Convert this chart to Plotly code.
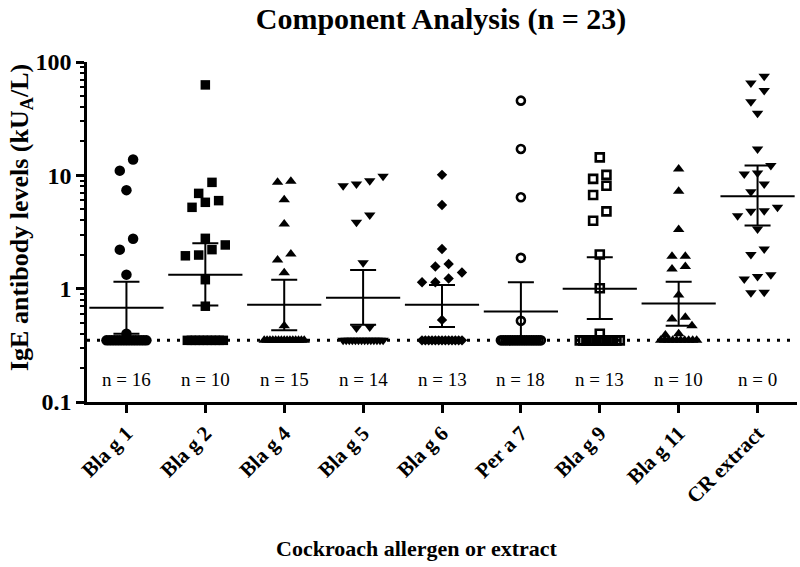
import numpy as np
import plotly.graph_objects as go

# ---------------- data ----------------
categories = ["Bla g 1", "Bla g 2", "Bla g 4", "Bla g 5", "Bla g 6",
              "Per a 7", "Bla g 9", "Bla g 11", "CR extract"]
LOD = 0.35  # detection limit (values below plotted at LOD)

bla_g_1 = [13.8, 11.0, 7.4, 2.76, 2.21, 1.33, 0.40] + [LOD] * 16
bla_g_2 = [62.8, 8.67, 6.93, 5.78, 5.22, 5.98, 2.78, 2.43, 2.21, 1.98, 1.95, 1.20, 0.70] + [LOD] * 10
bla_g_4 = [8.67, 8.85, 6.1, 3.72, 2.02, 1.79, 1.38, 0.47] + [LOD] * 15
bla_g_5 = [9.8, 8.4, 8.1, 8.98, 3.85, 4.47, 1.69, 0.45, 0.46] + [LOD] * 14
bla_g_6 = [10.1, 5.48, 2.24, 1.65, 1.57, 1.39, 1.23, 1.14, 1.14, 0.53] + [LOD] * 13
per_a_7 = [45.6, 17.1, 6.4, 1.87, 0.52] + [LOD] * 18
bla_g_9 = [14.4, 10.1, 9.3, 8.1, 6.7, 4.81, 3.98, 2.0, 1.01, 0.40] + [LOD] * 13
bla_g_11 = [11.4, 7.22, 3.32, 1.93, 1.93, 1.57, 1.49, 0.88, 0.54, 0.56, 0.47, 0.39, 0.40] + [LOD] * 10
cr_extract = [74.8, 65.3, 56.0, 44.7, 35.3, 17.1, 12.2, 10.3, 10.5, 8.4, 7.18, 5.22,
              4.41, 4.81, 4.88, 3.36, 2.0, 2.24, 1.22, 1.33, 1.28, 0.92, 0.93]

series = [bla_g_1, bla_g_2, bla_g_4, bla_g_5, bla_g_6, per_a_7, bla_g_9, bla_g_11, cr_extract]

geo_mean = [0.68, 1.33, 0.72, 0.83, 0.72, 0.63, 1.00, 0.74, 6.53]
ci_upper = [1.15, 2.51, 1.20, 1.46, 1.08, 1.14, 1.89, 1.15, 12.2]
ci_lower = [0.40, 0.71, 0.43, 0.48, 0.46, 0.36, 0.54, 0.47, 3.60]

n_below = [16, 10, 15, 14, 13, 18, 13, 10, 0]

# ---------------- styling ----------------
FONT = "Liberation Serif, Times New Roman, serif"
W, H = 800, 567
ML, MR, MT, MB = 87, 3, 62, 165
plot_w = W - ML - MR
plot_h = H - MT - MB
px_per_x = plot_w / 9.0           # x range is [-0.5, 8.5]
px_per_dec = plot_h / 3.0         # y range is 3 decades

markers = [
    dict(symbol="circle", size=10.5),
    dict(symbol="square", size=9.5),
    dict(symbol="triangle-up", size=10),
    dict(symbol="triangle-down", size=10),
    dict(symbol="diamond", size=8),
    dict(symbol="circle-open", size=8, line=dict(width=2.6, color="black")),
    dict(symbol="square-open", size=8, line=dict(width=2.6, color="black")),
    dict(symbol="triangle-up", size=10),
    dict(symbol="triangle-down", size=10),
]


def swarm_offsets(vals):
    """Return x offsets (in px) for a simple row-based beeswarm layout."""
    vals = np.asarray(vals, dtype=float)
    offs = np.zeros(len(vals))
    base = np.where(vals <= LOD)[0]
    if len(base) > 1:
        span = min(40.0, (len(base) - 1) * 4.0)
        offs[base] = np.linspace(-span / 2, span / 2, len(base))
    rest = [i for i in np.argsort(vals) if vals[i] > LOD]
    ypx = {i: np.log10(vals[i]) * px_per_dec for i in rest}
    rows, cur = [], []
    for i in rest:
        if cur and ypx[i] - ypx[cur[0]] > 11.5:
            rows.append(cur)
            cur = []
        cur.append(i)
    if cur:
        rows.append(cur)
    step = 13.3
    for r in rows:
        n = len(r)
        for k, i in enumerate(r):
            offs[i] = (k - (n - 1) / 2) * step
    return offs


fig = go.Figure()

for ci, vals in enumerate(series):
    offs = swarm_offsets(vals)
    xs = ci + offs / px_per_x
    mk = dict(color="black")
    mk.update(markers[ci])
    fig.add_trace(go.Scatter(x=xs, y=vals, mode="markers", marker=mk,
                             showlegend=False, hoverinfo="y"))

# geometric mean with 95% CI
fig.add_trace(go.Scatter(
    x=list(range(len(categories))), y=geo_mean, mode="markers",
    marker=dict(symbol="line-ew-open", size=53, color="black",
                line=dict(width=2, color="black")),
    error_y=dict(type="data", symmetric=False,
                 array=[u - m for u, m in zip(ci_upper, geo_mean)],
                 arrayminus=[m - l for m, l in zip(geo_mean, ci_lower)],
                 width=13, thickness=2, color="black"),
    showlegend=False, hoverinfo="y"))

# detection-limit dotted line
fig.add_shape(type="line", xref="x", yref="y", x0=-0.5, x1=8.5, y0=LOD, y1=LOD,
              line=dict(color="black", width=3, dash="3px,7px"))

annotations = []
# n = ... labels
for ci, n in enumerate(n_below):
    annotations.append(dict(x=ci, y=float(np.log10(0.158)), xref="x", yref="y",
                            text=f"n = {n}", showarrow=False,
                            font=dict(family=FONT, size=19, color="black")))

# axis titles as annotations
annotations.append(dict(
    x=(21 - ML) / plot_w, y=(H - MB - 218) / plot_h, xref="paper", yref="paper",
    text="<b>IgE antibody levels (kU<sub>A</sub>/L)</b>", textangle=-90, showarrow=False,
    xanchor="center", yanchor="middle",
    font=dict(family=FONT, size=26, color="black")))
annotations.append(dict(
    x=(416 - ML) / plot_w, y=(H - MB - 548) / plot_h, xref="paper", yref="paper",
    text="<b>Cockroach allergen or extract</b>", showarrow=False, textangle=0,
    xanchor="center", yanchor="middle",
    font=dict(family=FONT, size=22, color="black")))

fig.update_layout(
    width=W, height=H,
    margin=dict(l=ML, r=MR, t=MT, b=MB, autoexpand=False),
    paper_bgcolor="white", plot_bgcolor="white",
    title=dict(text="<b>Component Analysis (n = 23)</b>", x=441 / W, xanchor="center",
               y=1 - 18 / H, yanchor="middle", yref="container",
               font=dict(family=FONT, size=30, color="black")),
    font=dict(family=FONT, color="black"),
    annotations=annotations,
)

fig.update_xaxes(
    range=[-0.5, 8.5], tickmode="array", tickvals=list(range(len(categories))),
    ticktext=[f"<b>{c}</b>" for c in categories], tickangle=-45,
    tickfont=dict(family=FONT, size=21, color="black"),
    showline=True, linecolor="black", linewidth=2.5,
    ticks="outside", ticklen=8, tickwidth=2.5, tickcolor="black",
    showgrid=False, zeroline=False, automargin=False)

fig.update_yaxes(
    type="log", range=[-1, 2], tickmode="array", tickvals=[0.1, 1, 10, 100],
    ticktext=["<b>0.1</b>", "<b>1</b>", "<b>10</b>", "<b>100</b>"],
    tickfont=dict(family=FONT, size=24, color="black"),
    showline=True, linecolor="black", linewidth=2.5,
    ticks="outside", ticklen=8, tickwidth=2.5, tickcolor="black",
    minor=dict(tickmode="array",
               tickvals=[m * d for d in (0.1, 1, 10) for m in range(2, 10)],
               ticks="outside", ticklen=4, tickwidth=1.5, tickcolor="black",
               showgrid=False),
    showgrid=False, zeroline=False, automargin=False)

fig.write_html("out.html", config={"displayModeBar": False},
               post_script="document.body.style.margin='0';document.body.style.overflow='hidden';")
